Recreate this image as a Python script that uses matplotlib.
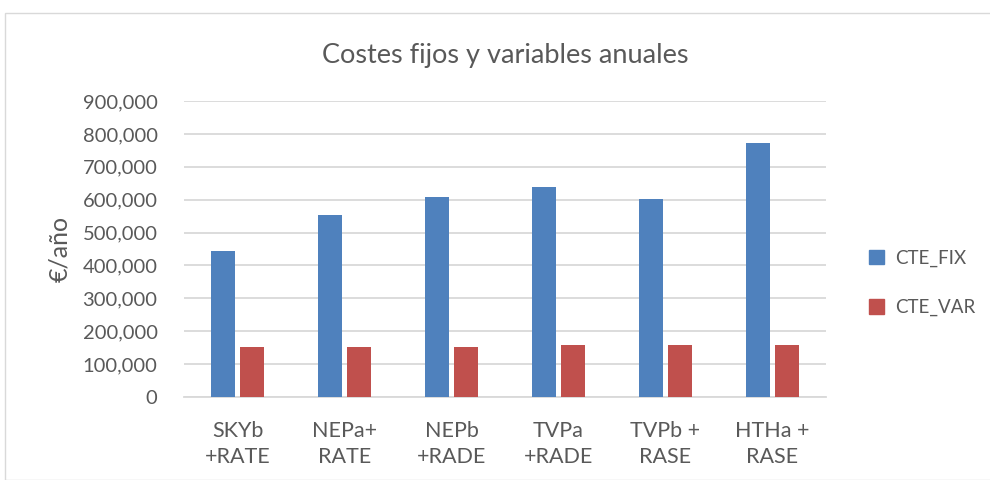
import matplotlib.pyplot as plt
import numpy as np
from matplotlib.patches import Rectangle, Patch
from matplotlib.ticker import FuncFormatter, MultipleLocator

categories = ['SKYb\n+RATE', 'NEPa+\nRATE', 'NEPb\n+RADE', 'TVPa\n+RADE', 'TVPb +\nRASE', 'HTHa +\nRASE']
cte_fix = [444000, 554000, 609000, 639000, 603000, 773000]
cte_var = [152000, 152000, 152000, 158000, 158000, 158000]

BLUE = '#4F81BD'
RED = '#C0504D'
TEXT = '#595959'
GRID = '#D9D9D9'

plt.rcParams['font.family'] = ['Lato', 'DejaVu Sans']

fig = plt.figure(figsize=(9.9, 4.8), dpi=100)
fig.patches.append(Rectangle((5 / 990, 0), 1, 1 - 13 / 480, transform=fig.transFigure,
                             fill=False, edgecolor=GRID, linewidth=1.0))

ax = fig.add_axes([184 / 990, 1 - 397 / 480, 642 / 990, 296 / 480])

x = np.arange(len(categories))
w = 0.224
gap = 0.056
ax.bar(x - (w + gap) / 2, cte_fix, width=w, color=BLUE, label='CTE_FIX', zorder=3)
ax.bar(x + (w + gap) / 2, cte_var, width=w, color=RED, label='CTE_VAR', zorder=3)

ax.set_xlim(-0.5, len(categories) - 0.5)
ax.set_ylim(0, 900000)
ax.yaxis.set_major_locator(MultipleLocator(100000))
ax.yaxis.set_major_formatter(FuncFormatter(lambda v, p: '{:,.0f}'.format(v)))
ax.grid(axis='y', color=GRID, linewidth=1.3, zorder=0)
ax.set_axisbelow(True)

for s in ['top', 'right', 'left']:
    ax.spines[s].set_visible(False)
ax.spines['bottom'].set_color(GRID)
ax.spines['bottom'].set_linewidth(1.3)

ax.tick_params(axis='both', length=0, labelcolor=TEXT)
ax.tick_params(axis='y', labelsize=14.5, pad=19)
ax.tick_params(axis='x', labelsize=15.5, pad=17)
ax.set_xticks(x)
ax.set_xticklabels(categories, linespacing=1.4)

ax.set_ylabel('€/año', fontsize=18, color=TEXT, labelpad=8)
fig.text(505 / 990, 1 - 56 / 480, 'Costes fijos y variables anuales', ha='center', va='center',
         fontsize=19.5, color=TEXT)

handles = [Patch(color=BLUE, label='CTE_FIX'), Patch(color=RED, label='CTE_VAR')]
fig.legend(handles=handles, loc='center left', bbox_to_anchor=(852 / 990, 1 - 283 / 480),
           frameon=False, fontsize=13.5, labelcolor=TEXT, handlelength=0.8, handleheight=0.8,
           labelspacing=1.7, handletextpad=0.6)

fig.savefig('out.png', dpi=100)
